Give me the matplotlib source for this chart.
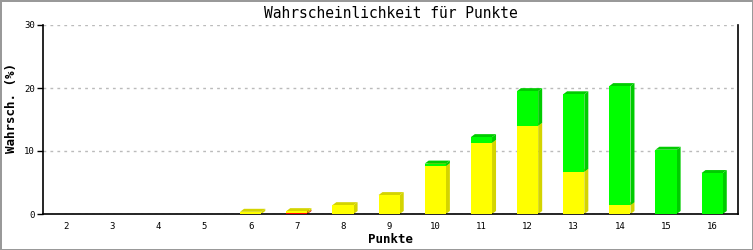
import numpy as np
import matplotlib.pyplot as plt
from matplotlib.patches import Polygon

punkte = [2, 3, 4, 5, 6, 7, 8, 9, 10, 11, 12, 13, 14, 15, 16]
rot = [0, 0, 0, 0, 0, 0.15, 0, 0, 0, 0, 0, 0, 0, 0, 0]
gelb = [0, 0, 0, 0, 0.35, 0.3, 1.4, 3.0, 7.6, 11.3, 14.0, 6.7, 1.4, 0, 0]
gruen = [0, 0, 0, 0, 0, 0, 0, 0, 0.4, 0.9, 5.5, 12.3, 18.9, 10.2, 6.5]

font = 'DejaVu Sans Mono'
fig = plt.figure(figsize=(7.53, 2.5), dpi=100)
fig.patch.set_edgecolor('#999999')
fig.patch.set_linewidth(2)
ax = fig.add_axes([43/753, 36/250, 695/753, 189/250])

breite = 0.46
tiefe = np.array([4.0, 3.0])  # Versatz in Pixel

ax.set_xlim(1.5, 16.56)
ax.set_ylim(0, 30)
fig.canvas.draw()

def quader(x, unten, oben, farbe, seite):
    if oben - unten <= 0:
        return
    l, r = x - breite/2, x + breite/2
    tr = ax.transData.transform
    inv = ax.transData.inverted().transform
    p0 = tr((r, unten)); p1 = tr((r, oben)); pl = tr((l, oben))
    side_pts = inv([p0, p1, p1 + tiefe, p0 + tiefe])
    top_pts = inv([pl, p1, p1 + tiefe, pl + tiefe])
    ax.add_patch(Polygon(side_pts, closed=True, facecolor=seite, edgecolor='none', zorder=2))
    ax.add_patch(Polygon(top_pts, closed=True, facecolor=seite, edgecolor='none', zorder=2))
    ax.bar(x, oben - unten, bottom=unten, width=breite, color=farbe, zorder=3, linewidth=0)

for i, x in enumerate(punkte):
    b = 0
    for wert, farbe, seite in [(rot[i], '#ff0000', '#cc0000'),
                               (gelb[i], '#ffff00', '#d4d400'),
                               (gruen[i], '#00ff00', '#00cc00')]:
        quader(x, b, b + wert, farbe, seite)
        b += wert

ax.set_yticks([0, 10, 20, 30])
ax.set_xticks(punkte)
ax.yaxis.grid(True, linestyle=(0, (2, 3)), color='#bbbbbb', linewidth=1)
ax.set_axisbelow(True)
ax.spines['top'].set_visible(False)
for s in ['left', 'bottom', 'right']:
    ax.spines[s].set_linewidth(1.2)
ax.tick_params(axis='x', length=0, pad=6, labelsize=6.5)
ax.tick_params(axis='y', length=4, width=1, labelsize=6.5, pad=2)
for t in ax.get_xticklabels() + ax.get_yticklabels():
    t.set_family(font)

ax.set_title('Wahrscheinlichkeit für Punkte', family=font, fontsize=10.5, pad=5)
ax.set_xlabel('Punkte', family=font, fontsize=9, fontweight='bold', labelpad=1)
ax.set_ylabel('Wahrsch. (%)', family=font, fontsize=9, fontweight='bold')
ax.yaxis.set_label_coords(-0.036, 0.56)

fig.savefig('out.png', dpi=100, edgecolor=fig.get_edgecolor())
